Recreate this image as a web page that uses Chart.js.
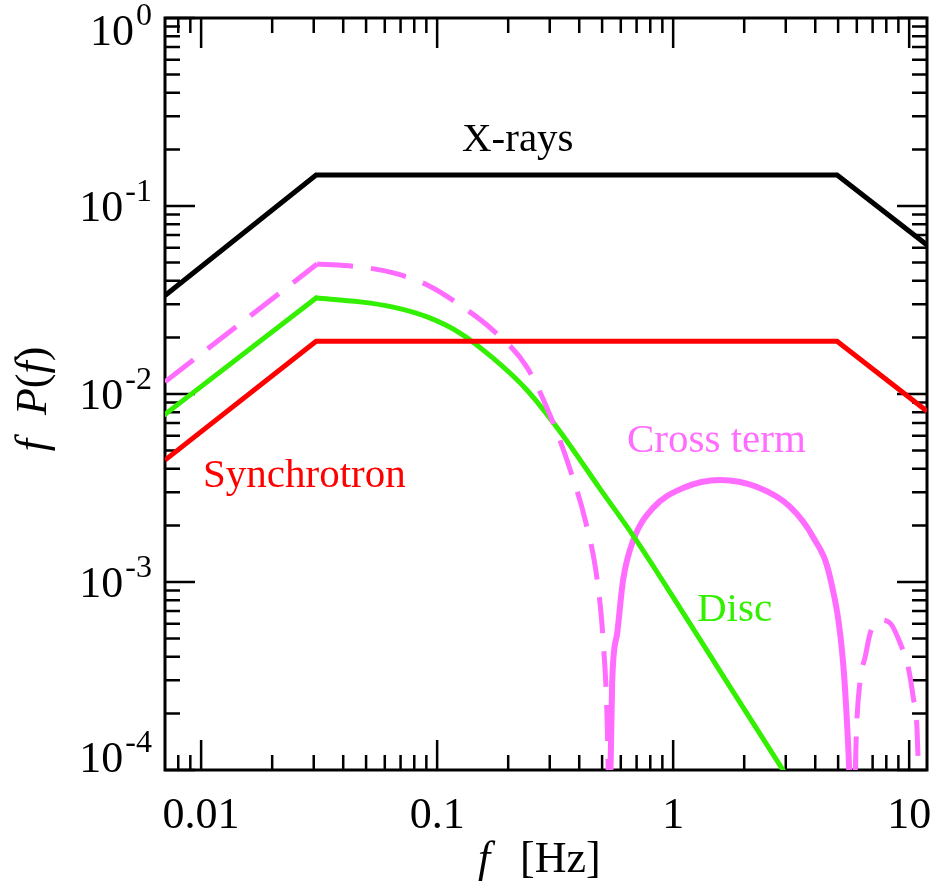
<!DOCTYPE html>
<html>
<head>
<meta charset="utf-8">
<script src="https://cdn.jsdelivr.net/npm/chart.js@4.4.1/dist/chart.umd.min.js"></script>
<style>
  html, body { margin: 0; padding: 0; background: #fff; }
  canvas { display: block; }
</style>
</head>
<body>
<canvas id="psd" width="934" height="889"></canvas>
<script>
// frequencies [Hz] and f P(f)
const xrayF = [0.00703, 0.0307, 4.95, 11.9];
const xrayP = [0.0334, 0.146, 0.146, 0.0620];

const syncF = [0.00703, 0.0307, 4.95, 11.9];
const syncP = [0.00445, 0.0191, 0.0191, 0.0081];

const discF = [0.00703, 0.0307, 0.0472, 0.0652, 0.0908, 0.125, 0.1726, 0.240, 0.332, 0.491, 0.678, 1.07, 1.744, 2.92, 3.5];
const discP = [0.0078, 0.0324, 0.0309, 0.0290, 0.0257, 0.0211, 0.0155, 0.0105, 0.0063, 0.00312, 0.00176, 7.27e-4, 2.76e-4, 1.0e-4, 7.0e-5];

// cross term, negative (dashed): low-frequency lobe and high-frequency lobe
const crossNegLowF = [0.00703, 0.0310, 0.0472, 0.0652, 0.0908, 0.125, 0.1726, 0.240, 0.3105, 0.3664, 0.4238, 0.4763, 0.505, 0.525, 0.536];
const crossNegLowP = [0.0116, 0.0491, 0.0474, 0.0441, 0.0380, 0.0297, 0.0218, 0.0139, 0.00701, 0.00394, 0.00214, 0.00103, 4.91e-4, 1.85e-4, 5e-5];
const crossNegHighF = [5.85, 5.96, 6.20, 6.51, 6.84, 7.2, 7.53, 8.30, 9.15, 9.90, 10.4, 10.8, 11.1];
const crossNegHighP = [5e-5, 1.44e-4, 3.01e-4, 3.99e-4, 5.36e-4, 5.98e-4, 6.28e-4, 6.05e-4, 4.74e-4, 3.53e-4, 2.44e-4, 1.63e-4, 5e-5];

// cross term, positive (solid)
const crossPosF = [0.538, 0.5514, 0.5795, 0.614, 0.678, 0.823, 1.10, 1.58, 2.27, 3.13, 3.92, 4.62, 5.25, 5.52, 5.70];
const crossPosP = [5e-5, 2.90e-4, 5.36e-4, 1.03e-3, 1.67e-3, 2.48e-3, 3.16e-3, 3.49e-3, 3.20e-3, 2.51e-3, 1.73e-3, 1.06e-3, 3.71e-4, 1.32e-4, 5e-5];

const xTickValues = [0.01, 0.1, 1, 10];
const xTickLabels = ['0.01', '0.1', '1', '10'];
const yTickExps = [0, -1, -2, -3, -4];

const GREEN = 'rgb(51,240,0)';
const MAGENTA = 'rgb(255,108,255)';
const SERIF = '"Liberation Serif", "Times New Roman", serif';

function pts(fs, ps) {
  return fs.map((f, i) => ({ x: f, y: ps[i] }));
}

// straight power-law rise up to the break, smooth curve after it
function brokenCurve(fs, ps, style) {
  return [
    Object.assign({ data: pts(fs.slice(0, 2), ps.slice(0, 2)) }, style),
    Object.assign({ data: pts(fs.slice(1), ps.slice(1)), cubicInterpolationMode: 'monotone' }, style)
  ];
}

const idlAxes = {
  id: 'idlAxes',
  beforeDatasetsDraw(chart) {
    const { ctx, chartArea: a, scales: { x, y } } = chart;
    ctx.save();
    ctx.strokeStyle = '#000';
    ctx.lineWidth = 2.5;
    ctx.beginPath();
    for (let d = -3; d <= 1; d++) {
      for (let m = 1; m <= 9; m++) {
        const v = m * Math.pow(10, d);
        if (v <= x.min || v >= x.max) continue;
        const px = x.getPixelForValue(v);
        const len = m === 1 ? 30 : 15;
        ctx.moveTo(px, a.bottom); ctx.lineTo(px, a.bottom - len);
        ctx.moveTo(px, a.top); ctx.lineTo(px, a.top + len);
      }
    }
    for (let d = -4; d <= 0; d++) {
      for (let m = 1; m <= 9; m++) {
        const v = m * Math.pow(10, d);
        if (v < y.min * 0.999 || v > y.max * 1.001) continue;
        const py = y.getPixelForValue(v);
        const len = m === 1 ? 30 : 15;
        ctx.moveTo(a.left, py); ctx.lineTo(a.left + len, py);
        ctx.moveTo(a.right, py); ctx.lineTo(a.right - len, py);
      }
    }
    ctx.stroke();
    ctx.lineWidth = 3;
    ctx.strokeRect(a.left, a.top, a.right - a.left, a.bottom - a.top);
    ctx.restore();
  },
  afterDraw(chart) {
    const { ctx, chartArea: a, scales: { x, y } } = chart;
    ctx.save();
    ctx.fillStyle = '#000';
    ctx.textBaseline = 'alphabetic';

    // x tick labels
    ctx.font = '44px ' + SERIF;
    ctx.textAlign = 'center';
    xTickValues.forEach((v, i) => {
      ctx.fillText(xTickLabels[i], x.getPixelForValue(v), a.bottom + 58);
    });

    // y tick labels 10^n
    const rightEdge = a.left - 13;
    yTickExps.forEach(e => {
      const py = y.getPixelForValue(Math.pow(10, e));
      const base = Math.min(Math.max(py + 15, a.top + 27), a.bottom + 2);
      ctx.font = '32px ' + SERIF;
      ctx.textAlign = 'right';
      const sup = String(e);
      const supW = ctx.measureText(sup).width;
      ctx.fillText(sup, rightEdge, base - 20);
      ctx.font = '44px ' + SERIF;
      ctx.fillText('10', rightEdge - supW - 2, base);
    });

    // x title: f [Hz]
    ctx.textAlign = 'left';
    ctx.font = 'italic 44px ' + SERIF;
    ctx.fillText('f', 478, 872);
    ctx.font = '44px ' + SERIF;
    ctx.fillText('[Hz]', 520, 872);

    // y title: f P(f), rotated
    ctx.save();
    ctx.translate(46, 399);
    ctx.rotate(-Math.PI / 2);
    const parts = [['f', true], ['', false, 24], ['P', true], ['(', false], ['f', true], [')', false]];
    let total = 0;
    parts.forEach(p => {
      ctx.font = (p[1] ? 'italic ' : '') + '44px ' + SERIF;
      total += p[2] || ctx.measureText(p[0]).width;
    });
    let cx = -total / 2;
    parts.forEach(p => {
      ctx.font = (p[1] ? 'italic ' : '') + '44px ' + SERIF;
      if (p[0]) ctx.fillText(p[0], cx, 0);
      cx += p[2] || ctx.measureText(p[0]).width;
    });
    ctx.restore();

    // curve labels
    ctx.font = '41px ' + SERIF;
    ctx.fillStyle = '#000';
    ctx.fillText('X-rays', 462, 151);
    ctx.fillStyle = '#ff0000';
    ctx.fillText('Synchrotron', 203, 487);
    ctx.fillStyle = MAGENTA;
    ctx.fillText('Cross term', 627, 452);
    ctx.fillStyle = GREEN;
    ctx.fillText('Disc', 697, 621);
    ctx.restore();
  }
};

const dashed = { borderColor: MAGENTA, borderWidth: 5, borderDash: [36, 18] };
const disc = { borderColor: GREEN, borderWidth: 5, borderCapStyle: 'round' };

new Chart(document.getElementById('psd'), {
  type: 'line',
  data: {
    datasets: [
      { label: 'X-rays', data: pts(xrayF, xrayP), borderColor: '#000', borderWidth: 5 },
      { label: 'Synchrotron', data: pts(syncF, syncP), borderColor: '#ff0000', borderWidth: 5 },
      ...brokenCurve(crossNegLowF, crossNegLowP, dashed),
      Object.assign({ data: pts(crossNegHighF, crossNegHighP), cubicInterpolationMode: 'monotone' }, dashed),
      ...brokenCurve(discF, discP, disc),
      { label: 'Cross term', data: pts(crossPosF, crossPosP), borderColor: MAGENTA, borderWidth: 6, cubicInterpolationMode: 'monotone' }
    ]
  },
  options: {
    responsive: false,
    devicePixelRatio: 1,
    animation: false,
    layout: { padding: { left: 165, top: 18, right: 7, bottom: 119 } },
    elements: {
      point: { radius: 0, hoverRadius: 0 },
      line: { tension: 0, fill: false, borderCapStyle: 'butt', borderJoinStyle: 'miter' }
    },
    datasets: { line: { clip: 0 } },
    plugins: { legend: { display: false }, tooltip: { enabled: false } },
    scales: {
      x: { type: 'logarithmic', min: 0.00703, max: 11.9, display: false },
      y: { type: 'logarithmic', min: 1e-4, max: 1, display: false }
    }
  },
  plugins: [idlAxes]
});
</script>
</body>
</html>
